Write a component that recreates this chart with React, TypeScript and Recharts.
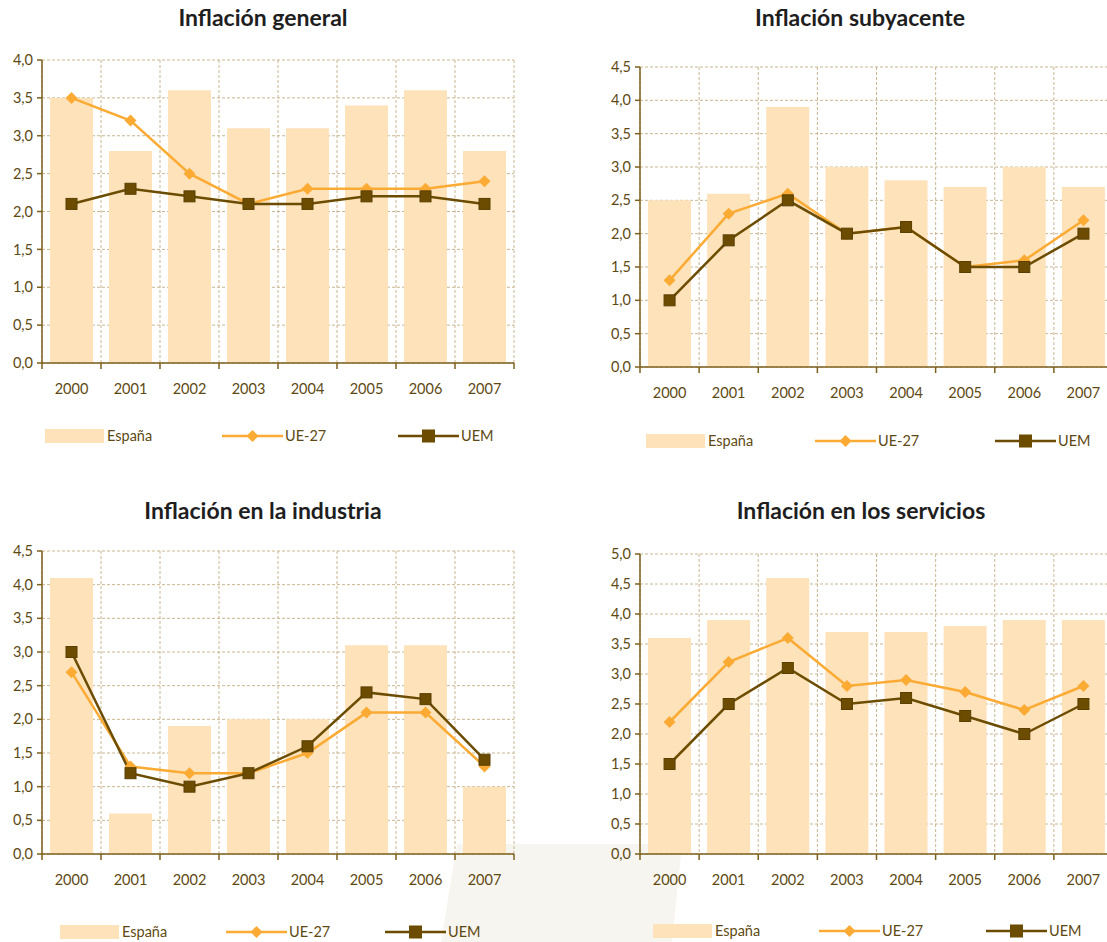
import React from "react";
import { Bar, CartesianGrid, ComposedChart, Line, XAxis, YAxis } from "recharts";

const years = ["2000", "2001", "2002", "2003", "2004", "2005", "2006", "2007"];

const generalEspana = [3.5, 2.8, 3.6, 3.1, 3.1, 3.4, 3.6, 2.8];
const generalUe27 = [3.5, 3.2, 2.5, 2.1, 2.3, 2.3, 2.3, 2.4];
const generalUem = [2.1, 2.3, 2.2, 2.1, 2.1, 2.2, 2.2, 2.1];

const subyEspana = [2.5, 2.6, 3.9, 3.0, 2.8, 2.7, 3.0, 2.7];
const subyUe27 = [1.3, 2.3, 2.6, 2.0, 2.1, 1.5, 1.6, 2.2];
const subyUem = [1.0, 1.9, 2.5, 2.0, 2.1, 1.5, 1.5, 2.0];

const industriaEspana = [4.1, 0.6, 1.9, 2.0, 2.0, 3.1, 3.1, 1.0];
const industriaUe27 = [2.7, 1.3, 1.2, 1.2, 1.5, 2.1, 2.1, 1.3];
const industriaUem = [3.0, 1.2, 1.0, 1.2, 1.6, 2.4, 2.3, 1.4];

const serviciosEspana = [3.6, 3.9, 4.6, 3.7, 3.7, 3.8, 3.9, 3.9];
const serviciosUe27 = [2.2, 3.2, 3.6, 2.8, 2.9, 2.7, 2.4, 2.8];
const serviciosUem = [1.5, 2.5, 3.1, 2.5, 2.6, 2.3, 2.0, 2.5];

const ticks45 = [0, 0.5, 1, 1.5, 2, 2.5, 3, 3.5, 4, 4.5];
const ticks40 = [0, 0.5, 1, 1.5, 2, 2.5, 3, 3.5, 4];
const ticks50 = [0, 0.5, 1, 1.5, 2, 2.5, 3, 3.5, 4, 4.5, 5];

const FONT = "Lato, 'Open Sans', sans-serif";
const TEXT = "#5e4912";
const AXIS = "#7d5f1e";
const GRID = "#c9b690";
const BAR = "#fde2ba";
const UE27 = "#fbab34";
const UEM = "#6b4c00";

const fmt = (v: number) => v.toFixed(1).replace(".", ",");

function YearTick(props: any) {
  const { x, y, payload, index, band, last } = props;
  const left = x - band / 2;
  return (
    <g>
      <line x1={left} x2={left} y1={y} y2={y + 6} stroke={AXIS} strokeWidth={1.5} />
      {index === last && (
        <line x1={x + band / 2} x2={x + band / 2} y1={y} y2={y + 6} stroke={AXIS} strokeWidth={1.5} />
      )}
      <text x={x} y={y + 31} textAnchor="middle" fill={TEXT} fontSize={14.5} fontFamily={FONT}>
        {payload.value}
      </text>
    </g>
  );
}

function Diamond(props: any) {
  const { cx, cy, index } = props;
  if (cx == null || cy == null) return <g key={`d${index}`} />;
  const r = 6;
  return (
    <polygon
      key={`d${index}`}
      points={`${cx},${cy - r} ${cx + r},${cy} ${cx},${cy + r} ${cx - r},${cy}`}
      fill={UE27}
    />
  );
}

function Square(props: any) {
  const { cx, cy, index } = props;
  if (cx == null || cy == null) return <g key={`s${index}`} />;
  const s = 11;
  return <rect key={`s${index}`} x={cx - s / 2} y={cy - s / 2} width={s} height={s} fill={UEM} stroke="#5a3f00" strokeWidth={1} />;
}

interface PanelProps {
  title: string;
  titleX: number;
  titleY: number;
  espana: number[];
  ue27: number[];
  uem: number[];
  yMax: number;
  yTicks: number[];
  left: number;
  top: number;
  width: number;
  axisX: number;
  plotTop: number;
  plotRight: number;
  plotBottom: number;
  legendY: number;
  legendX: [number, number, number];
}

function Panel(p: PanelProps) {
  const data = years.map((year, i) => ({ year, espana: p.espana[i], ue27: p.ue27[i], uem: p.uem[i] }));
  const height = p.plotBottom - p.top + 40;
  const band = (p.plotRight - p.axisX) / years.length;
  return (
    <>
      <div
        style={{
          position: "absolute",
          left: p.titleX - 200,
          top: p.titleY - 15,
          width: 400,
          textAlign: "center",
          fontFamily: FONT,
          fontWeight: 700,
          fontSize: 23,
          lineHeight: "30px",
          color: "#1e1e1e",
        }}
      >
        {p.title}
      </div>
      <div style={{ position: "absolute", left: p.left, top: p.top }}>
        <ComposedChart
          width={p.width}
          height={height}
          data={data}
          margin={{ top: p.plotTop - p.top, right: p.left + p.width - p.plotRight, bottom: 0, left: 0 }}
        >
          <CartesianGrid
            stroke={GRID}
            strokeDasharray="3 2"
            verticalCoordinatesGenerator={({ offset }: any) =>
              [...years.map((_, i) => offset.left + (i * offset.width) / years.length), offset.left + offset.width]
            }
          />
          <XAxis
            dataKey="year"
            height={40}
            interval={0}
            tickLine={false}
            tickSize={0}
            tickMargin={0}
            axisLine={{ stroke: AXIS, strokeWidth: 1.5 }}
            tick={<YearTick band={band} last={years.length - 1} />}
          />
          <YAxis
            width={p.axisX - p.left}
            domain={[0, p.yMax]}
            ticks={p.yTicks}
            interval={0}
            tickFormatter={fmt}
            tickSize={5}
            tickMargin={4}
            tickLine={{ stroke: AXIS, strokeWidth: 1.5 }}
            axisLine={{ stroke: AXIS, strokeWidth: 1.5 }}
            tick={{ fill: TEXT, fontSize: 14.5, fontFamily: FONT }}
          />
          <Bar dataKey="espana" fill={BAR} barSize={43} isAnimationActive={false} />
          <Line dataKey="ue27" stroke={UE27} strokeWidth={2.5} dot={Diamond} activeDot={false} isAnimationActive={false} />
          <Line dataKey="uem" stroke={UEM} strokeWidth={2.5} dot={Square} activeDot={false} isAnimationActive={false} />
        </ComposedChart>
      </div>
      <Legend y={p.legendY} xs={p.legendX} />
    </>
  );
}

function Legend({ y, xs }: { y: number; xs: [number, number, number] }) {
  const label: React.CSSProperties = {
    position: "absolute",
    top: y - 10,
    fontFamily: FONT,
    fontSize: 14.5,
    lineHeight: "20px",
    color: TEXT,
  };
  return (
    <>
      <div style={{ position: "absolute", left: xs[0], top: y - 7, width: 59, height: 14, background: BAR }} />
      <div style={{ ...label, left: xs[0] + 62 }}>España</div>
      <svg style={{ position: "absolute", left: xs[1], top: y - 8 }} width={61} height={16}>
        <line x1={0} x2={61} y1={8} y2={8} stroke={UE27} strokeWidth={2.5} />
        <polygon points="30.5,2 36.5,8 30.5,14 24.5,8" fill={UE27} />
      </svg>
      <div style={{ ...label, left: xs[1] + 63 }}>UE-27</div>
      <svg style={{ position: "absolute", left: xs[2], top: y - 8 }} width={61} height={16}>
        <line x1={0} x2={61} y1={8} y2={8} stroke={UEM} strokeWidth={2.5} />
        <rect x={24} y={1.5} width={13} height={13} fill={UEM} />
      </svg>
      <div style={{ ...label, left: xs[2] + 63 }}>UEM</div>
    </>
  );
}

export default function App() {
  return (
    <div
      style={{
        position: "absolute",
        left: 0,
        top: 0,
        width: 1107,
        height: 942,
        overflow: "hidden",
        background: "#ffffff",
      }}
    >
      <div
        style={{
          position: "absolute",
          left: 0,
          top: 0,
          width: 1107,
          height: 942,
          background: "#f7f5ef",
          clipPath: "polygon(457px 844px, 682px 844px, 672px 942px, 441px 942px)",
        }}
      />
      <Panel
        title="Inflación general"
        titleX={263}
        titleY={17}
        espana={generalEspana}
        ue27={generalUe27}
        uem={generalUem}
        yMax={4}
        yTicks={ticks40}
        left={0}
        top={0}
        width={540}
        axisX={42}
        plotTop={60}
        plotRight={514}
        plotBottom={363}
        legendY={436}
        legendX={[45, 222, 398]}
      />
      <Panel
        title="Inflación subyacente"
        titleX={860}
        titleY={17}
        espana={subyEspana}
        ue27={subyUe27}
        uem={subyUem}
        yMax={4.5}
        yTicks={ticks45}
        left={590}
        top={0}
        width={530}
        axisX={640}
        plotTop={67}
        plotRight={1113}
        plotBottom={367}
        legendY={441}
        legendX={[646, 815, 995]}
      />
      <Panel
        title="Inflación en la industria"
        titleX={263}
        titleY={510}
        espana={industriaEspana}
        ue27={industriaUe27}
        uem={industriaUem}
        yMax={4.5}
        yTicks={ticks45}
        left={0}
        top={490}
        width={540}
        axisX={42}
        plotTop={551}
        plotRight={514}
        plotBottom={854}
        legendY={932}
        legendX={[60, 226, 385]}
      />
      <Panel
        title="Inflación en los servicios"
        titleX={861}
        titleY={510}
        espana={serviciosEspana}
        ue27={serviciosUe27}
        uem={serviciosUem}
        yMax={5}
        yTicks={ticks50}
        left={590}
        top={490}
        width={530}
        axisX={640}
        plotTop={554}
        plotRight={1113}
        plotBottom={854}
        legendY={931}
        legendX={[653, 819, 986]}
      />
    </div>
  );
}
